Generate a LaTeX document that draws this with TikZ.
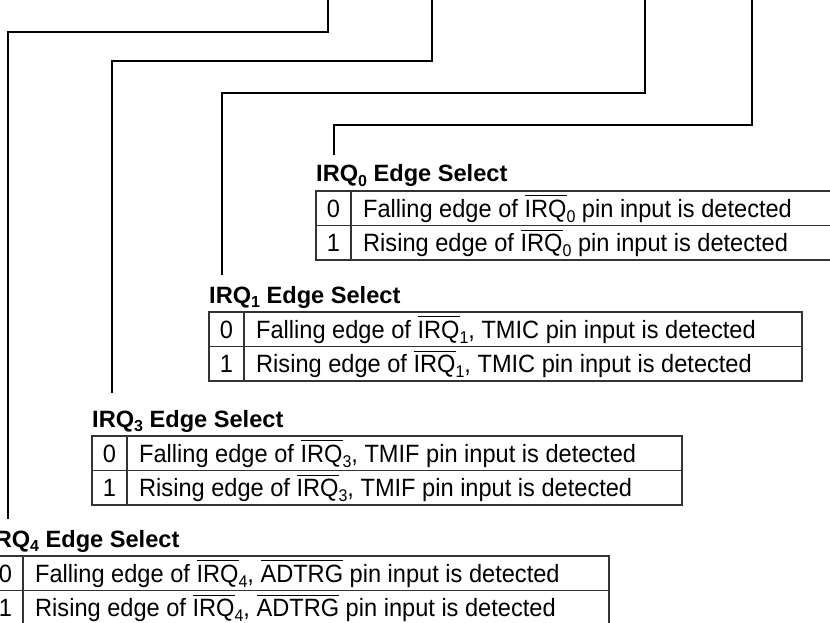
\documentclass[tikz,border=0pt]{standalone}
\usepackage{graphicx}
\usepackage{fontspec}
\setmainfont{Liberation Sans}
\newcommand\ovl[1]{\leavevmode\setbox0\hbox{#1}\rlap{\rule[0.83em]{\wd0}{0.045em}}\box0\relax}
\newcommand\sbs[1]{\raisebox{-0.2em}{\fontsize{16}{16}\selectfont #1}}
\newcommand\rowtext[1]{\scalebox{1}[1.06]{#1}}
\newcommand\irqtable[8]{%
  \node[ttl] (#1t) at (#2,#5-9) {#6};
  \draw[tbl] (#2,#5) rectangle (#4,#5+69);
  \draw[tbl] (#2,#5+34.5) -- (#4,#5+34.5);
  \draw[tbl] (#3,#5) -- (#3,#5+69);
  \node[num] (#1a) at ({(#2+#3)/2},#5+26) {\rowtext{0}};
  \node[txt] (#1b) at (#3+12,#5+26) {\rowtext{#7}};
  \node[num] (#1c) at ({(#2+#3)/2},#5+60.5) {\rowtext{1}};
  \node[txt] (#1d) at (#3+12,#5+60.5) {\rowtext{#8}};
}
\begin{document}
\begin{tikzpicture}[x=1pt,y=-1pt,
  conn/.style={line width=1.3pt, black},
  tbl/.style={line width=1.2pt, black!80},
  ttl/.style={anchor=base west, inner sep=0pt, font=\fontsize{23.6}{28}\selectfont\bfseries},
  txt/.style={anchor=base west, inner sep=0pt, font=\fontsize{23.6}{28}\selectfont},
  num/.style={anchor=base, inner sep=0pt, font=\fontsize{23.6}{28}\selectfont}]
\useasboundingbox (0,0) rectangle (830,623);
\clip (0,0) rectangle (830,623);

% connectors
\coordinate (s0) at (752,-2); \coordinate (b0) at (752,125); \coordinate (e0) at (334,155);
\coordinate (s1) at (645,-2); \coordinate (b1) at (645,93);  \coordinate (e1) at (222,275);
\coordinate (s3) at (432,-2); \coordinate (b3) at (432,61);  \coordinate (e3) at (112,393);
\coordinate (s4) at (328,-2); \coordinate (b4) at (328,32);  \coordinate (e4) at (8,519);
\draw[conn] (s0) -- (b0) -| (e0);
\draw[conn] (s1) -- (b1) -| (e1);
\draw[conn] (s3) -- (b3) -| (e3);
\draw[conn] (s4) -- (b4) -| (e4);

% tables
\irqtable{q0}{316}{351}{834}{191}{IRQ\sbs{0} Edge Select}
  {Falling edge of \ovl{IRQ}\sbs{0} pin input is detected}
  {Rising edge of \ovl{IRQ}\sbs{0} pin input is detected}
\irqtable{q1}{209}{244}{802}{312}{IRQ\sbs{1} Edge Select}
  {Falling edge of \ovl{IRQ}\sbs{1}, TMIC pin input is detected}
  {Rising edge of \ovl{IRQ}\sbs{1}, TMIC pin input is detected}
\irqtable{q3}{92}{127}{682}{436}{IRQ\sbs{3} Edge Select}
  {Falling edge of \ovl{IRQ}\sbs{3}, TMIF pin input is detected}
  {Rising edge of \ovl{IRQ}\sbs{3}, TMIF pin input is detected}
\irqtable{q4}{-12}{23}{609}{556}{IRQ\sbs{4} Edge Select}
  {Falling edge of \ovl{IRQ}\sbs{4}, \ovl{ADTRG} pin input is detected}
  {Rising edge of \ovl{IRQ}\sbs{4}, \ovl{ADTRG} pin input is detected}
\end{tikzpicture}
\end{document}
